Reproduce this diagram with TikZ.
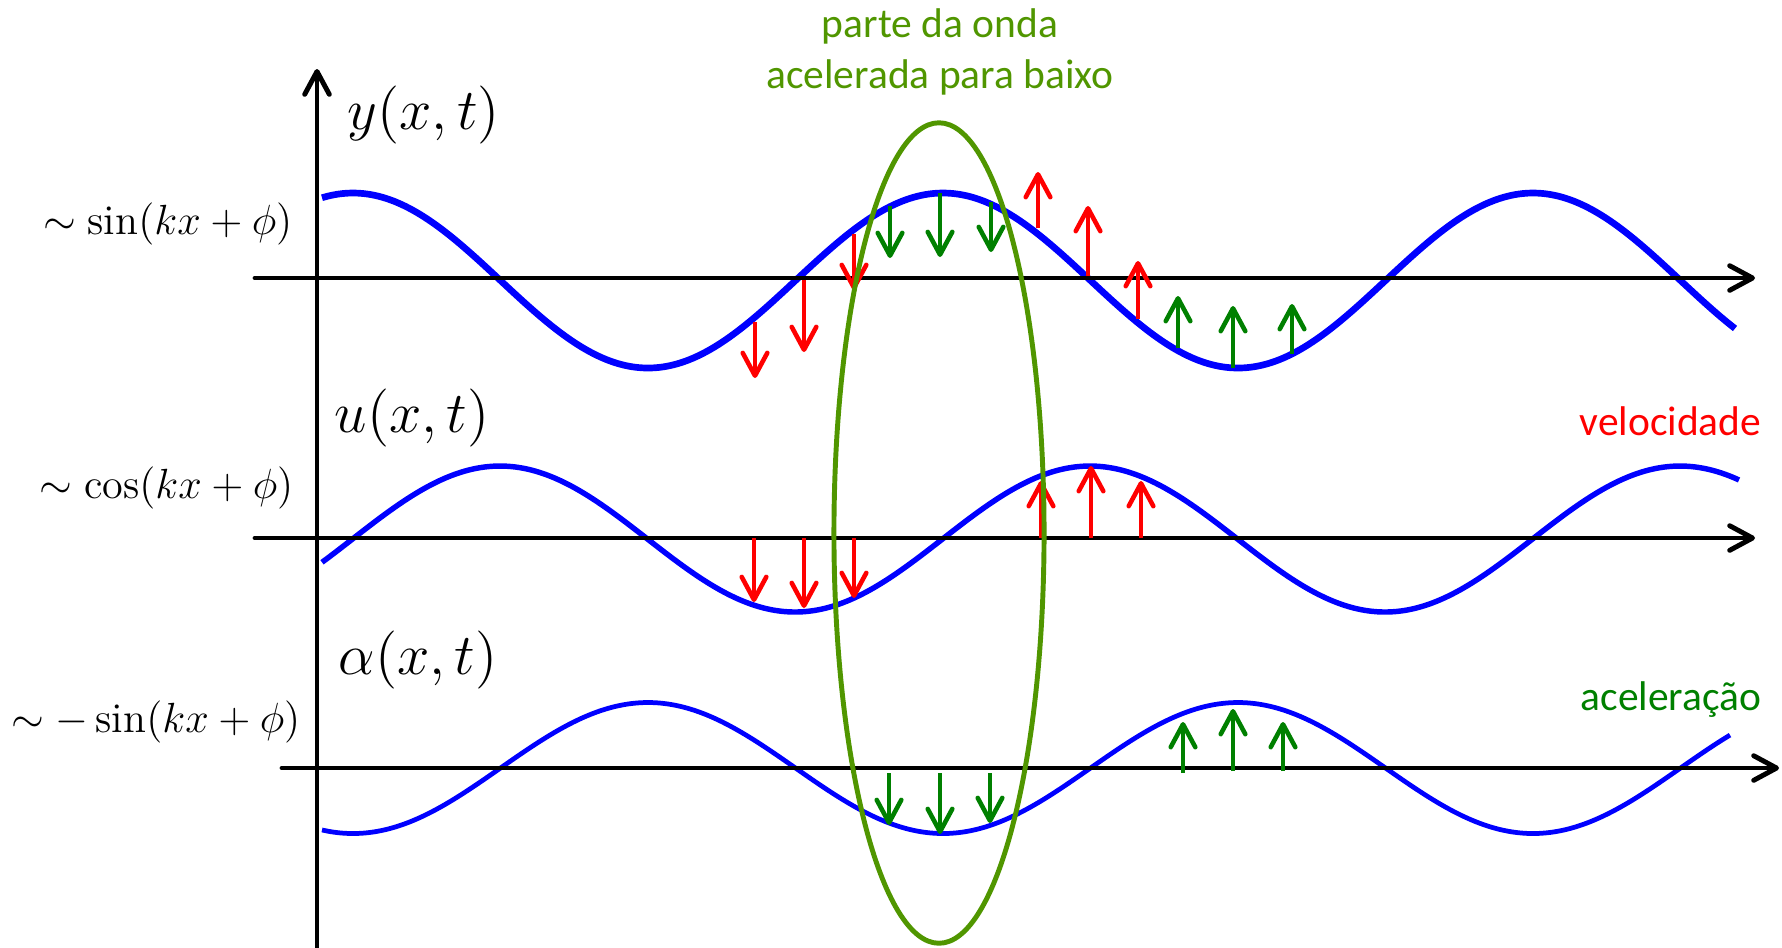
\documentclass[tikz,border=0pt]{standalone}
\usepackage{fix-cm}
\usepackage{fontspec}
\newfontfamily\carl{Carlito}
\usetikzlibrary{arrows.meta}
\definecolor{wblue}{RGB}{0,0,255}
\definecolor{vred}{RGB}{255,0,0}
\definecolor{agreen}{RGB}{0,128,0}
\definecolor{eolive}{RGB}{80,150,0}
\tikzset{
  axisline/.style={line width=1.4pt, line cap=round,
    -{Straight Barb[length=6.5pt,width=7pt,line cap=round,line join=round]}},
  wave/.style={wblue, smooth, samples=240},
  vecarrow/.style={line width=1.3pt,
    -{Straight Barb[length=6.5pt,width=7pt,line cap=round,line join=round]}},
  redarrow/.style={vecarrow, vred},
  greenarrow/.style={vecarrow, agreen},
  mathlbl/.style={inner sep=0pt, font=\fontsize{16.5}{20}\selectfont},
  fnlbl/.style={inner sep=0pt, font=\fontsize{12}{14}\selectfont},
  sanslbl/.style={inner sep=0pt, font=\carl\fontsize{11.8}{14}\selectfont},
}
\begin{document}
\begin{tikzpicture}[x=0.01cm,y=-0.01cm]
\useasboundingbox (0,0) rectangle (1782,947);
% waves
\draw[wave, line width=1.9pt] plot[domain=322:1735] (\x,{280.5-87.5*cos((\x-943)/590*360)});
\draw[wave, line width=1.55pt] plot[domain=322:1739] (\x,{539-73*cos((\x-1090)/590*360)});
\draw[wave, line width=1.35pt] plot[domain=322:1730] (\x,{768+65.5*cos((\x-943)/590*360)});
% axes
\coordinate (vbot) at (317,952);
\coordinate (vtop) at (317,69);
\coordinate (a1l) at (255,278); \coordinate (a1r) at (1755,278);
\coordinate (a2l) at (255,538); \coordinate (a2r) at (1755,538);
\coordinate (a3l) at (282,768); \coordinate (a3r) at (1779,768);
\draw[axisline] (vbot) -- (vtop);
\draw[axisline] (a1l) -- (a1r);
\draw[axisline] (a2l) -- (a2r);
\draw[axisline] (a3l) -- (a3r);
% wave 1 arrows
\draw[redarrow] (755,322) -- (755,378);
\draw[redarrow] (804,280) -- (804,352);
\draw[redarrow] (854,234) -- (854,290);
\draw[greenarrow] (890,206) -- (890,258);
\draw[greenarrow] (940,193) -- (940,257);
\draw[greenarrow] (991,202) -- (991,252);
\draw[redarrow] (1038,228) -- (1038,172);
\draw[redarrow] (1088,276) -- (1088,206);
\draw[redarrow] (1138,319) -- (1138,261);
\draw[greenarrow] (1178,348) -- (1178,296);
\draw[greenarrow] (1233,368) -- (1233,306);
\draw[greenarrow] (1292,354) -- (1292,304);
% wave 2 arrows
\draw[redarrow] (754,538) -- (754,602);
\draw[redarrow] (804,538) -- (804,608);
\draw[redarrow] (854,538) -- (854,598);
\draw[redarrow] (1041,538) -- (1041,481);
\draw[redarrow] (1091,538) -- (1091,466);
\draw[redarrow] (1141,538) -- (1141,481);
% wave 3 arrows
\draw[greenarrow] (889,773) -- (889,825);
\draw[greenarrow] (940,773) -- (940,834);
\draw[greenarrow] (990,773) -- (990,823);
\draw[greenarrow] (1183,773) -- (1183,722);
\draw[greenarrow] (1233,771) -- (1233,709);
\draw[greenarrow] (1283,771) -- (1283,722);
% ellipse
\draw[eolive, line width=1.4pt] (939,533) ellipse [x radius=1.05cm, y radius=4.1cm];
% labels
\node[mathlbl, anchor=west] (ylbl) at (347,115) {$y(x,t)$};
\node[mathlbl, anchor=west] (ulbl) at (334,418) {$u(x,t)$};
\node[mathlbl, anchor=west] (albl) at (338,660) {$\alpha(x,t)$};
\node[fnlbl, anchor=east] (f1) at (293,224) {$\sim\sin(kx+\phi)$};
\node[fnlbl, anchor=east] (f2) at (294,488) {$\sim\cos(kx+\phi)$};
\node[fnlbl, anchor=east] (f3) at (301,722) {$\sim-\sin(kx+\phi)$};
\node[sanslbl, text=eolive, anchor=base] (t1) at (940,37) {parte da onda};
\node[sanslbl, text=eolive, anchor=base] (t2) at (940,88) {acelerada para baixo};
\node[sanslbl, text=vred, anchor=base east] (vel) at (1762,435) {velocidade};
\node[sanslbl, text=agreen, anchor=base east] (acc) at (1762,710) {aceleração};
\end{tikzpicture}
\end{document}
